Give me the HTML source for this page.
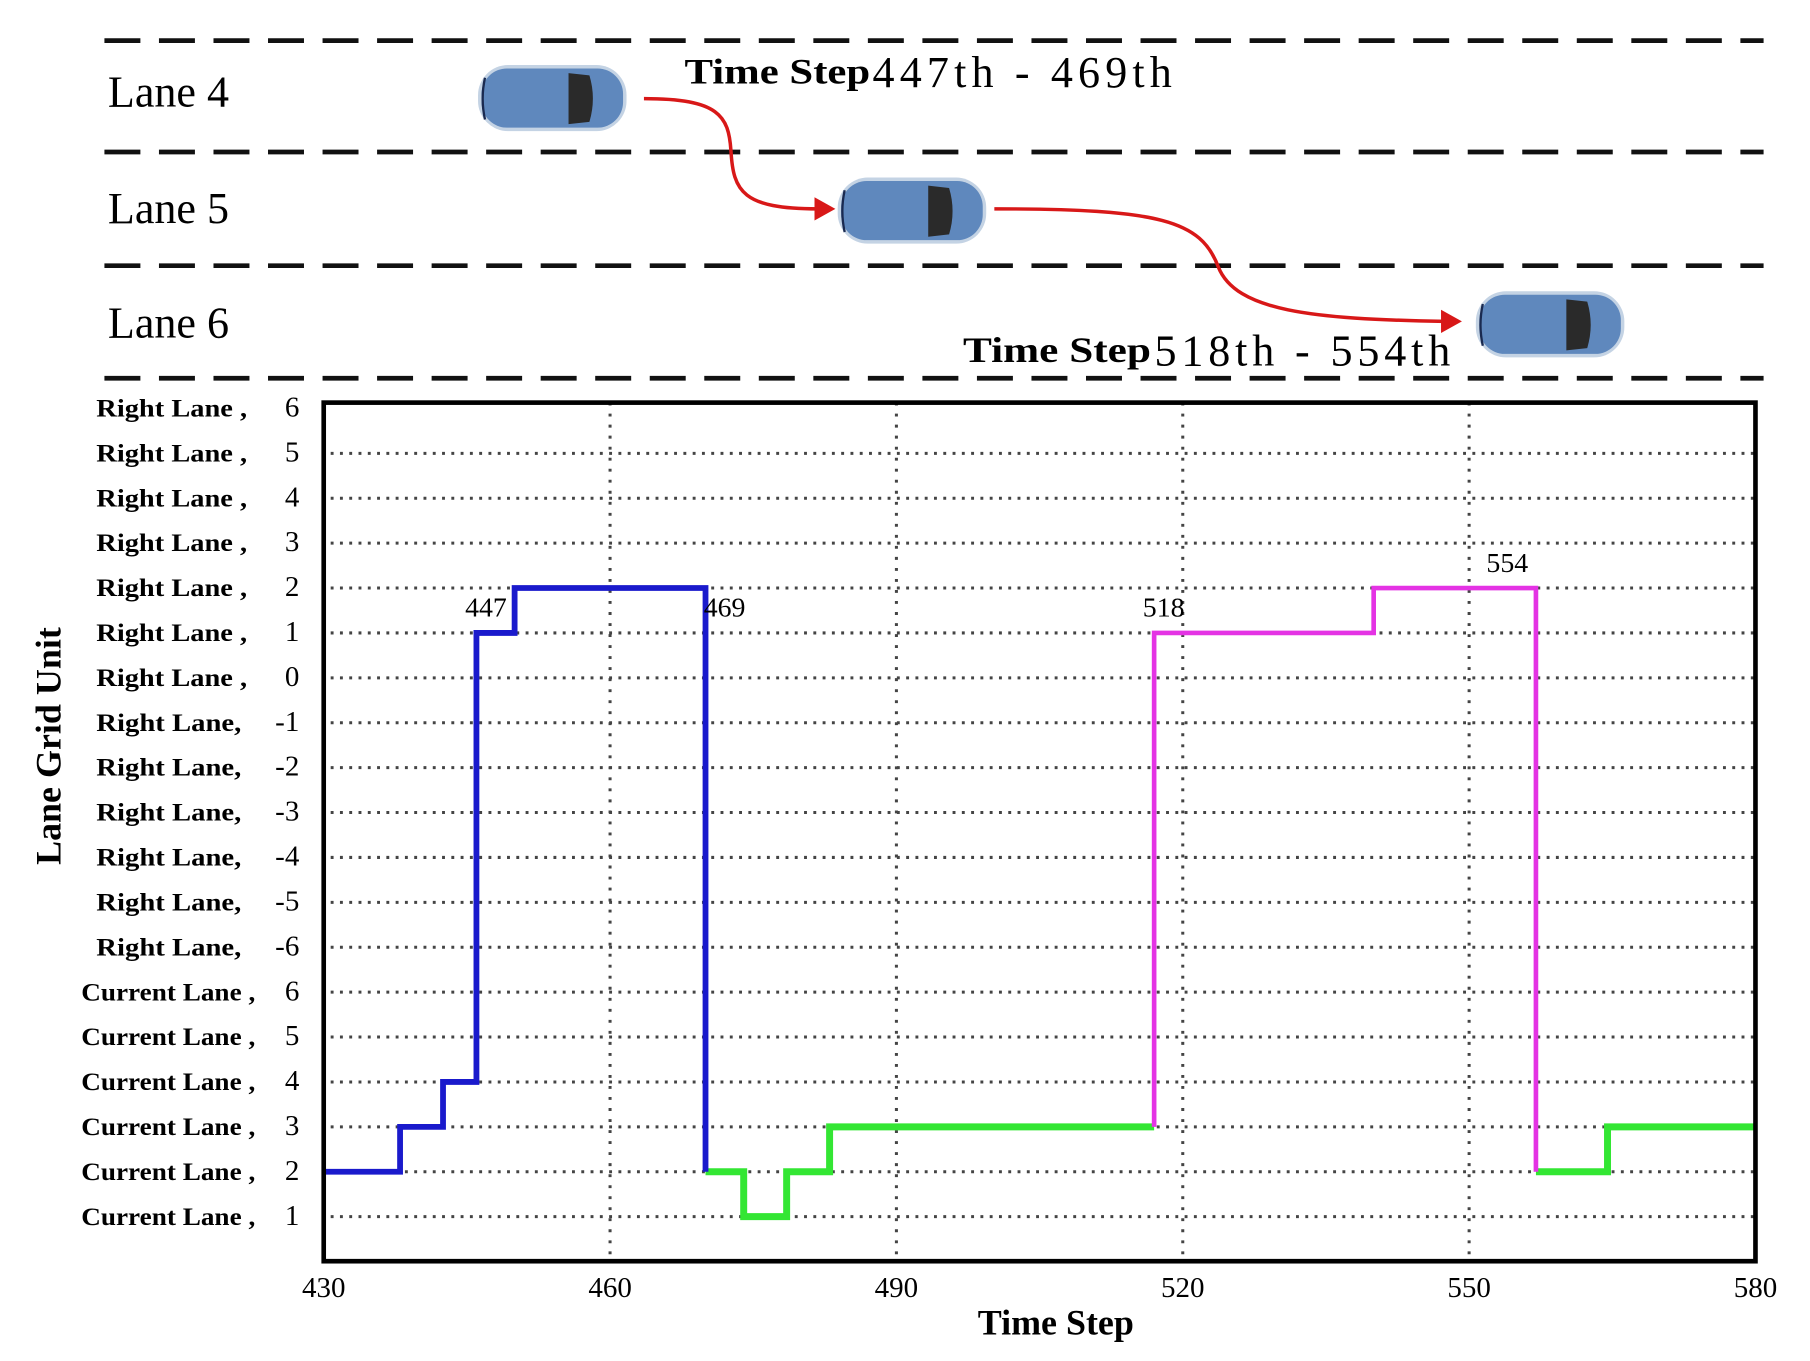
<!DOCTYPE html>
<html><head><meta charset="utf-8"><style>
html,body{margin:0;padding:0;background:#fff;}
svg{display:block;}
text{font-family:"Liberation Serif",serif;}
</style></head><body>
<svg id="chart" width="1810" height="1361" viewBox="0 0 1560 1173" xmlns="http://www.w3.org/2000/svg">
<g id="scene">
  <g stroke="#111" stroke-width="4" stroke-dasharray="31,16">
    <line x1="90" y1="35" x2="1520" y2="35"/>
    <line x1="90" y1="131" x2="1520" y2="131"/>
    <line x1="90" y1="229" x2="1520" y2="229"/>
    <line x1="90" y1="326" x2="1520" y2="326"/>
  </g>
  <text x="93" y="92" font-size="38">Lane 4</text>
  <text x="93" y="192" font-size="38">Lane 5</text>
  <text x="93" y="291" font-size="38">Lane 6</text>
  <text x="590" y="72" font-size="31" font-weight="bold" textLength="160" lengthAdjust="spacingAndGlyphs">Time Step</text>
  <text x="752" y="75" font-size="38" textLength="258">447th - 469th</text>
  <text x="830" y="312" font-size="31" font-weight="bold" textLength="162" lengthAdjust="spacingAndGlyphs">Time Step</text>
  <text x="995" y="315" font-size="38" textLength="255">518th - 554th</text>
  <g fill="none" stroke="#d81818" stroke-width="3">
    <path d="M555,85 C620,85 628,100 630,130 C632,165 640,180 705,180"/>
    <path d="M857,180 C1000,180 1035,190 1050,230 C1065,268 1130,275 1245,277"/>
  </g>
  <polygon points="702,170 720,180 702,190" fill="#d81818"/>
  <polygon points="1242,267 1260,277 1242,287" fill="#d81818"/>
  <g id="cars"></g>
</g>
<g id="plot"></g>
</svg>
<script>
// ---- chart data ----
const rowLabels = ["Right Lane ,","Right Lane ,","Right Lane ,","Right Lane ,","Right Lane ,","Right Lane ,","Right Lane ,","Right Lane,","Right Lane,","Right Lane,","Right Lane,","Right Lane,","Right Lane,","Current Lane ,","Current Lane ,","Current Lane ,","Current Lane ,","Current Lane ,","Current Lane ,"];
const rowNums = ["6","5","4","3","2","1","0","-1","-2","-3","-4","-5","-6","6","5","4","3","2","1"];
const xTicks = [430,460,490,520,550,580];
// step series: times and level (row index)
const blueTimes = [430,438,442.5,446,450,470];
const blueLevels = [17,16,15,5,4,17];
const green1Times = [470,474,478.5,483,517];
const green1Levels = [17,18,17,16,16];
const magentaTimes = [517,517,540,557];
const magentaLevels = [16,5,4,17];
const green2Times = [557,564.5,580];
const green2Levels = [17,16,16];
const annoValues = ["447","469","518","554"];
const annoTimes = [447,472,518,554];
const annoLevels = [5,5,5,4];

const NS="http://www.w3.org/2000/svg";
const X0=279,X1=1513,T0=430,T1=580,Y0=352,DY=38.7,TOP=347,BOT=1087;
function x(t){return X0+(t-T0)*(X1-X0)/(T1-T0);}
function y(i){return Y0+i*DY;}
function mk(tag,attrs,parent){const e=document.createElementNS(NS,tag);for(const k in attrs)e.setAttribute(k,attrs[k]);parent.appendChild(e);return e;}
const plot=document.getElementById('plot');

rowLabels.forEach((l,i)=>{
  if(i===0)return;
  const g=mk('line',{x1:X0+6,x2:X1,y1:y(i),y2:y(i),stroke:'#444','stroke-width':2.6,'stroke-dasharray':'2.5,5.5'},plot);
  
  
});
xTicks.forEach((t,i)=>{
  if(i===0||i===xTicks.length-1)return;
  const g=mk('line',{x1:x(t),x2:x(t),y1:TOP,y2:BOT,stroke:'#444','stroke-width':2.6,'stroke-dasharray':'2.5,7'},plot);
  
  
});
rowLabels.forEach((l,i)=>{
  const cur=i>=13;
  const t=mk('text',{x:cur?70:83,y:y(i)+7,'font-size':22,'font-weight':'bold',textLength:cur?150:(i<7?130:125),lengthAdjust:'spacingAndGlyphs'},plot);
  t.textContent=l;
  
  
  const n=mk('text',{x:258,y:y(i)+7,'font-size':25,'text-anchor':'end'},plot);
  n.textContent=rowNums[i];
  
  
});
xTicks.forEach(t=>{
  const e=mk('text',{x:x(t),y:1118,'font-size':25,'text-anchor':'middle'},plot);
  e.textContent=t;
  
  
});
function series(times,levels,color,w,name){
  let d='M'+x(times[0])+','+y(levels[0]);
  for(let i=1;i<times.length;i++){d+=' H'+x(times[i])+' V'+y(levels[i]);}
  const p=mk('path',{d:d,fill:'none',stroke:color,'stroke-width':w},plot);
  
  
}
series(green1Times,green1Levels,'#33e633',6,'green-series-1');
series(green2Times,green2Levels,'#33e633',6,'green-series-2');
series(blueTimes,blueLevels,'#1a1acc',5,'blue-series');
series(magentaTimes,magentaLevels,'#e433e4',4,'magenta-series');
annoValues.forEach((v,i)=>{
  const e=mk('text',{x:x(annoTimes[i]),y:y(annoLevels[i])-14,'font-size':24,'text-anchor':'middle'},plot);
  e.textContent=v;
  
  
});
const f=mk('rect',{x:X0,y:TOP,width:X1-X0,height:BOT-TOP,fill:'none',stroke:'#000','stroke-width':4},plot);


const xt=mk('text',{x:910,y:1150,'font-size':31,'font-weight':'bold','text-anchor':'middle'},plot);
xt.textContent='Time Step';


const yt=mk('text',{x:0,y:0,'font-size':31,'font-weight':'bold','text-anchor':'middle',transform:'translate(52,643) rotate(-90)'},plot);
yt.textContent='Lane Grid Unit';



const cars=document.getElementById('cars');
[[412,55],[722,152],[1272,250]].forEach((p,i)=>{
  const g=mk('g',{transform:'translate('+p[0]+','+p[1]+')'},cars);
  
  
  mk('rect',{x:0,y:1,width:128,height:57,rx:26,fill:'#c4d3e4'},g);
  mk('rect',{x:3,y:4,width:122,height:51,rx:22,fill:'#5f88bd'},g);
  mk('path',{d:'M78,8 L96,10 Q102,30 96,50 L78,52 Z',fill:'#2a2a2a'},g);
  mk('path',{d:'M6,12 Q2,30 6,48',fill:'none',stroke:'#1a2a50','stroke-width':2},g);
});
</script>
</body></html>
